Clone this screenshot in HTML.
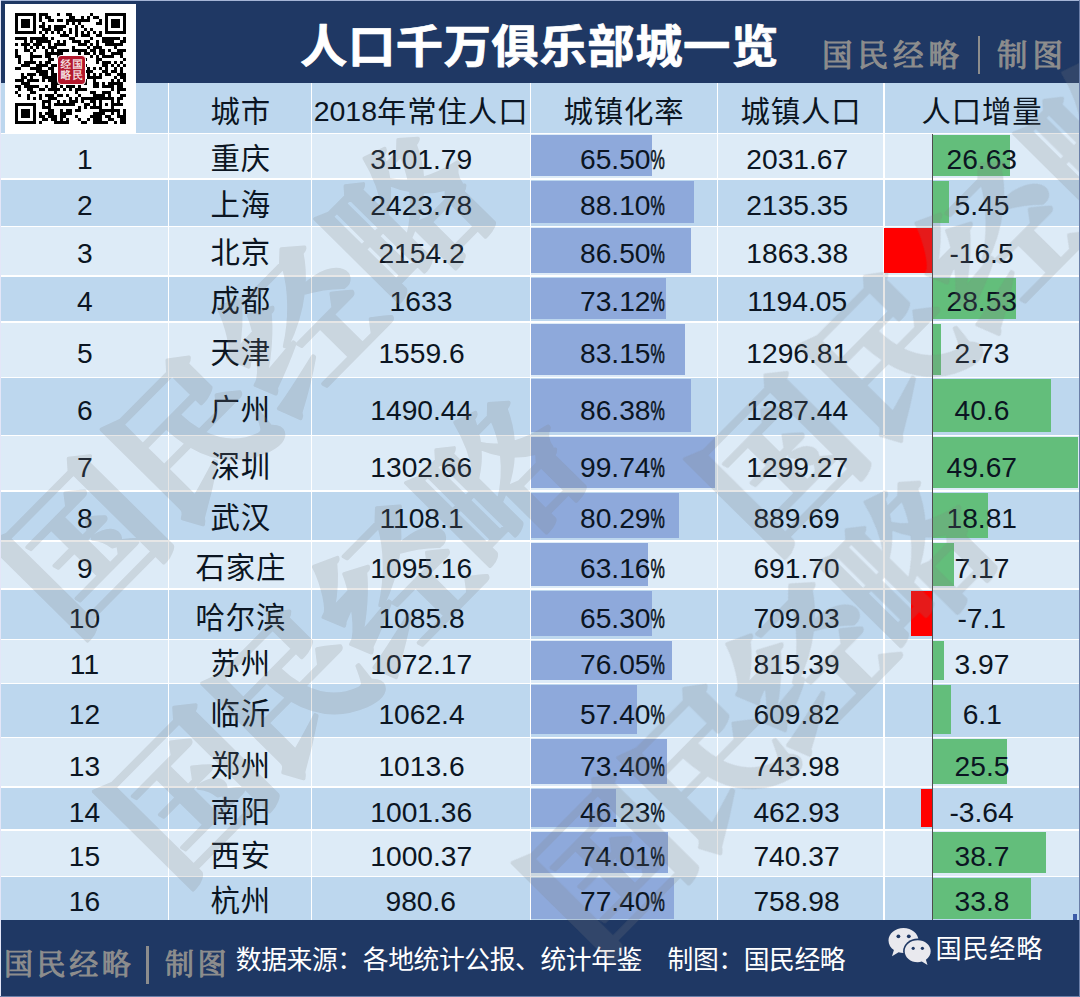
<!DOCTYPE html>
<html lang="zh-CN"><head><meta charset="utf-8"><title>人口千万俱乐部城一览</title>
<style>
html,body{margin:0;padding:0;background:#fff}
body{font-family:"Liberation Sans","Noto Sans CJK SC",sans-serif;width:1080px;height:997px;overflow:hidden}
#page{position:relative;width:1080px;height:997px;overflow:hidden;background:#ddebf7}
svg.t{display:block;overflow:visible;flex:none}
svg text{font-family:"Liberation Sans","Noto Sans CJK SC",sans-serif}
svg.kai text, svg.wm text{font-family:"Liberation Serif","Noto Serif CJK SC",serif}
.titlebar{position:absolute;left:0;top:0;width:1080px;height:83px;background:#1f3864}
.topline{position:absolute;left:0;top:0;width:1080px;height:1.5px;background:#9db2d6}
.leftline{position:absolute;left:0;top:0;width:1px;height:83px;background:#9db2d6}
.title{position:absolute;margin:0;padding:0;font-weight:bold;font-size:0;line-height:0}
.brand{position:absolute;display:flex;align-items:center}
.brand .vbar{display:block;flex:none}
.qrbox{position:absolute;z-index:5;left:5px;top:4px;width:131px;height:129.5px;background:#fff}
.qrbox svg.qr{position:absolute;left:10px;top:9px}
.qrlogo{position:absolute;left:51.5px;top:50.5px;width:27px;height:28px;border:1px solid #fff;border-radius:4px;background:#b4182d}
.table{position:absolute;left:0;top:0;width:1080px;height:921px}
.row{position:absolute;left:0;width:1080px}
.row.head{background:#bdd7ee}
.row.odd{background:#ddebf7}
.row.even{background:#bdd7ee}
.cell{position:absolute;top:0;height:100%;display:flex;align-items:flex-start;justify-content:center}
.cell .tx{position:relative;display:block;z-index:2}
.bar{position:absolute;display:block;background:#8ea9db;z-index:1}
.bar.g{background:#63be7b}
.bar.r{background:#ff0000}
.vl{position:absolute;top:83px;width:1.6px;height:838px;background:#fff;display:block}
.hl{position:absolute;left:0;width:1080px;height:1.7px;background:#fff;display:block}
.axis{position:absolute;top:134px;width:1px;height:786px;background:#4d4d4d;display:block;z-index:3}
.footer{position:absolute;left:0;top:920px;width:1080px;height:77px;background:#1f3864}
.src{position:absolute}
.wx{position:absolute;width:170px;height:42px}
.wx .wxi{position:absolute;left:0;top:0;display:block}
.wx .wxt{position:absolute;display:block}
.corner{position:absolute;left:1072.8px;top:913.8px;width:4px;height:6px;background:#3b5aa8;display:block}
.edge{position:absolute;display:block;z-index:9}
svg.wm{position:absolute;left:0;top:0;display:block;z-index:8;pointer-events:none}
.qrlogo svg.lg{position:absolute;left:0;top:0;display:block;opacity:.92}

</style></head>
<body>
<div id="page">
<div class="titlebar"></div>
<h1 class="title" style="left:300.4px;top:22.5px;width:478.3px;height:45.5px"><svg class="t" width="459.95" height="45.50" viewBox="0 -880 10108.8 1000" fill="#fff" style="transform:scaleX(1.040);transform-origin:0 0" stroke="#fff" stroke-width="16" stroke-linejoin="round"><text x="0" y="0" font-size="1000" font-weight="bold" letter-spacing="12.1">人口千万俱乐部城一览</text></svg></h1>
<div class="brand" style="left:822.0px;top:35.5px"><svg class="t kai" width="137.00" height="30.50" viewBox="0 -880 4491.8 1000" fill="#8d8d8d" style="position:relative;top:0.0px" stroke="#8d8d8d" stroke-width="36" stroke-linejoin="round"><text x="0" y="0" font-size="1000" letter-spacing="163.9">国民经略</text></svg><i class="vbar" style="background:#8d8d8d;width:2.5px;height:38.1px;margin:0 16.5px 0 18.5px"></i><svg class="t kai" width="66.00" height="30.50" viewBox="0 -880 2163.9 1000" fill="#8d8d8d" style="position:relative;top:0.0px" stroke="#8d8d8d" stroke-width="36" stroke-linejoin="round"><text x="0" y="0" font-size="1000" letter-spacing="163.9">制图</text></svg></div>
<div class="qrbox"><svg class="qr" width="111" height="111" viewBox="0 0 37 37" shape-rendering="crispEdges"><path fill="#000" d="M0 0h7v1h-7zM8 0h3v1h-3zM14 0h1v1h-1zM17 0h2v1h-2zM25 0h1v1h-1zM30 0h7v1h-7zM0 1h1v1h-1zM6 1h1v1h-1zM8 1h1v1h-1zM10 1h2v1h-2zM18 1h2v1h-2zM22 1h1v1h-1zM24 1h1v1h-1zM26 1h2v1h-2zM30 1h1v1h-1zM36 1h1v1h-1zM0 2h1v1h-1zM2 2h3v1h-3zM6 2h1v1h-1zM8 2h1v1h-1zM11 2h2v1h-2zM14 2h2v1h-2zM17 2h8v1h-8zM28 2h1v1h-1zM30 2h1v1h-1zM32 2h3v1h-3zM36 2h1v1h-1zM0 3h1v1h-1zM2 3h3v1h-3zM6 3h1v1h-1zM9 3h1v1h-1zM17 3h1v1h-1zM19 3h1v1h-1zM21 3h1v1h-1zM27 3h2v1h-2zM30 3h1v1h-1zM32 3h3v1h-3zM36 3h1v1h-1zM0 4h1v1h-1zM2 4h3v1h-3zM6 4h1v1h-1zM8 4h2v1h-2zM11 4h1v1h-1zM13 4h4v1h-4zM20 4h1v1h-1zM22 4h1v1h-1zM30 4h1v1h-1zM32 4h3v1h-3zM36 4h1v1h-1zM0 5h1v1h-1zM6 5h1v1h-1zM9 5h3v1h-3zM13 5h3v1h-3zM18 5h1v1h-1zM20 5h1v1h-1zM23 5h1v1h-1zM25 5h1v1h-1zM30 5h1v1h-1zM36 5h1v1h-1zM0 6h7v1h-7zM8 6h1v1h-1zM10 6h1v1h-1zM12 6h1v1h-1zM14 6h1v1h-1zM16 6h1v1h-1zM18 6h1v1h-1zM20 6h1v1h-1zM22 6h1v1h-1zM24 6h1v1h-1zM26 6h1v1h-1zM28 6h1v1h-1zM30 6h7v1h-7zM9 7h1v1h-1zM15 7h3v1h-3zM20 7h1v1h-1zM22 7h3v1h-3zM27 7h2v1h-2zM0 8h4v1h-4zM5 8h6v1h-6zM12 8h1v1h-1zM18 8h2v1h-2zM25 8h1v1h-1zM29 8h6v1h-6zM36 8h1v1h-1zM3 9h1v1h-1zM5 9h1v1h-1zM7 9h5v1h-5zM14 9h1v1h-1zM16 9h1v1h-1zM19 9h3v1h-3zM23 9h2v1h-2zM27 9h1v1h-1zM29 9h4v1h-4zM35 9h2v1h-2zM0 10h1v1h-1zM2 10h3v1h-3zM6 10h3v1h-3zM11 10h1v1h-1zM13 10h4v1h-4zM21 10h3v1h-3zM25 10h1v1h-1zM27 10h1v1h-1zM30 10h6v1h-6zM3 11h1v1h-1zM5 11h1v1h-1zM7 11h1v1h-1zM9 11h1v1h-1zM11 11h3v1h-3zM19 11h1v1h-1zM24 11h1v1h-1zM26 11h3v1h-3zM33 11h1v1h-1zM0 12h1v1h-1zM3 12h2v1h-2zM6 12h1v1h-1zM10 12h1v1h-1zM12 12h1v1h-1zM14 12h4v1h-4zM19 12h5v1h-5zM25 12h2v1h-2zM28 12h2v1h-2zM31 12h1v1h-1zM34 12h3v1h-3zM0 13h1v1h-1zM5 13h1v1h-1zM10 13h6v1h-6zM21 13h1v1h-1zM23 13h2v1h-2zM26 13h1v1h-1zM28 13h2v1h-2zM32 13h4v1h-4zM0 14h2v1h-2zM5 14h4v1h-4zM10 14h2v1h-2zM14 14h2v1h-2zM18 14h1v1h-1zM20 14h1v1h-1zM25 14h1v1h-1zM27 14h1v1h-1zM29 14h4v1h-4zM35 14h1v1h-1zM1 15h1v1h-1zM5 15h1v1h-1zM11 15h2v1h-2zM14 15h1v1h-1zM17 15h1v1h-1zM21 15h1v1h-1zM23 15h1v1h-1zM27 15h2v1h-2zM36 15h1v1h-1zM1 16h1v1h-1zM3 16h4v1h-4zM8 16h1v1h-1zM10 16h2v1h-2zM14 16h1v1h-1zM16 16h1v1h-1zM18 16h5v1h-5zM27 16h1v1h-1zM29 16h3v1h-3zM33 16h1v1h-1zM35 16h1v1h-1zM2 17h3v1h-3zM7 17h4v1h-4zM12 17h5v1h-5zM19 17h2v1h-2zM23 17h1v1h-1zM29 17h2v1h-2zM32 17h1v1h-1zM34 17h1v1h-1zM36 17h1v1h-1zM0 18h2v1h-2zM5 18h4v1h-4zM11 18h2v1h-2zM16 18h4v1h-4zM22 18h1v1h-1zM24 18h1v1h-1zM26 18h1v1h-1zM28 18h1v1h-1zM30 18h1v1h-1zM33 18h1v1h-1zM35 18h1v1h-1zM7 19h4v1h-4zM12 19h1v1h-1zM14 19h2v1h-2zM20 19h2v1h-2zM23 19h3v1h-3zM29 19h2v1h-2zM32 19h2v1h-2zM35 19h1v1h-1zM2 20h1v1h-1zM4 20h3v1h-3zM8 20h3v1h-3zM12 20h2v1h-2zM18 20h1v1h-1zM22 20h1v1h-1zM24 20h1v1h-1zM26 20h1v1h-1zM28 20h1v1h-1zM30 20h2v1h-2zM34 20h3v1h-3zM2 21h2v1h-2zM5 21h1v1h-1zM9 21h5v1h-5zM15 21h1v1h-1zM21 21h2v1h-2zM24 21h5v1h-5zM33 21h1v1h-1zM35 21h2v1h-2zM0 22h3v1h-3zM4 22h4v1h-4zM9 22h1v1h-1zM11 22h5v1h-5zM17 22h2v1h-2zM20 22h2v1h-2zM23 22h1v1h-1zM26 22h1v1h-1zM32 22h1v1h-1zM34 22h1v1h-1zM36 22h1v1h-1zM2 23h3v1h-3zM12 23h3v1h-3zM18 23h1v1h-1zM21 23h1v1h-1zM23 23h1v1h-1zM26 23h2v1h-2zM29 23h1v1h-1zM31 23h5v1h-5zM0 24h2v1h-2zM3 24h5v1h-5zM10 24h1v1h-1zM12 24h2v1h-2zM15 24h1v1h-1zM17 24h3v1h-3zM21 24h1v1h-1zM26 24h2v1h-2zM29 24h4v1h-4zM34 24h2v1h-2zM1 25h1v1h-1zM4 25h2v1h-2zM8 25h2v1h-2zM11 25h4v1h-4zM16 25h1v1h-1zM18 25h1v1h-1zM20 25h4v1h-4zM32 25h1v1h-1zM34 25h3v1h-3zM0 26h1v1h-1zM5 26h2v1h-2zM13 26h1v1h-1zM20 26h1v1h-1zM25 26h2v1h-2zM29 26h3v1h-3zM34 26h1v1h-1zM1 27h1v1h-1zM4 27h1v1h-1zM8 27h1v1h-1zM10 27h3v1h-3zM14 27h2v1h-2zM17 27h1v1h-1zM21 27h1v1h-1zM26 27h4v1h-4zM31 27h1v1h-1zM35 27h2v1h-2zM4 28h1v1h-1zM6 28h1v1h-1zM8 28h1v1h-1zM11 28h3v1h-3zM18 28h1v1h-1zM20 28h1v1h-1zM22 28h11v1h-11zM34 28h2v1h-2zM9 29h3v1h-3zM14 29h1v1h-1zM16 29h1v1h-1zM18 29h3v1h-3zM22 29h1v1h-1zM25 29h2v1h-2zM28 29h1v1h-1zM32 29h1v1h-1zM34 29h1v1h-1zM0 30h7v1h-7zM9 30h1v1h-1zM11 30h1v1h-1zM13 30h7v1h-7zM23 30h2v1h-2zM26 30h1v1h-1zM28 30h1v1h-1zM30 30h1v1h-1zM32 30h4v1h-4zM0 31h1v1h-1zM6 31h1v1h-1zM9 31h3v1h-3zM21 31h1v1h-1zM23 31h1v1h-1zM25 31h4v1h-4zM32 31h1v1h-1zM0 32h1v1h-1zM2 32h3v1h-3zM6 32h1v1h-1zM11 32h2v1h-2zM15 32h1v1h-1zM17 32h2v1h-2zM20 32h2v1h-2zM28 32h7v1h-7zM36 32h1v1h-1zM0 33h1v1h-1zM2 33h3v1h-3zM6 33h1v1h-1zM8 33h1v1h-1zM10 33h3v1h-3zM15 33h4v1h-4zM26 33h4v1h-4zM32 33h1v1h-1zM34 33h1v1h-1zM36 33h1v1h-1zM0 34h1v1h-1zM2 34h3v1h-3zM6 34h1v1h-1zM8 34h2v1h-2zM11 34h3v1h-3zM15 34h2v1h-2zM20 34h1v1h-1zM25 34h4v1h-4zM30 34h2v1h-2zM34 34h3v1h-3zM0 35h1v1h-1zM6 35h1v1h-1zM9 35h2v1h-2zM12 35h2v1h-2zM15 35h1v1h-1zM17 35h1v1h-1zM21 35h1v1h-1zM24 35h1v1h-1zM26 35h3v1h-3zM31 35h2v1h-2zM35 35h2v1h-2zM0 36h7v1h-7zM8 36h1v1h-1zM13 36h5v1h-5zM22 36h2v1h-2zM26 36h5v1h-5zM33 36h1v1h-1zM35 36h2v1h-2z"/></svg><div class="qrlogo"><svg class="lg kai" width="27" height="28" viewBox="0 0 27 28" fill="#fff" stroke="#fff" stroke-width="0.3"><text x="14.2" y="11.5" font-size="10.5">国</text><text x="14.2" y="23.3" font-size="10.5">民</text><text x="2.4" y="11.5" font-size="10.5">经</text><text x="2.4" y="23.3" font-size="10.5">略</text></svg></div></div>
<div class="table">
<div class="row head" style="top:83.0px;height:50.5px">
<div class="cell" style="left:0.0px;width:168.5px"></div>
<div class="cell" style="left:168.5px;width:143.0px"><span class="tx" style="left:0.0px;top:11.53px"><svg class="t" width="60.60" height="29.40" viewBox="0 -25.87 60.60 29.40" fill="#0b1522"><text x="0.45" y="1.2" font-size="29.4" letter-spacing="0.9">城市</text></svg></span></div>
<div class="cell" style="left:311.5px;width:219.0px"><span class="tx" style="left:0.0px;top:11.53px"><svg class="t" width="214.09" height="29.40" viewBox="0 -25.87 214.09 29.40" fill="#0b1522"><text x="31.3" y="0.1" font-size="28.5" text-anchor="middle">2018</text><text x="63.04" y="1.2" font-size="29.4" letter-spacing="0.9">年常住人口</text></svg></span></div>
<div class="cell" style="left:530.5px;width:187.0px"><span class="tx" style="left:0.0px;top:11.53px"><svg class="t" width="121.20" height="29.40" viewBox="0 -25.87 121.20 29.40" fill="#0b1522"><text x="0.45" y="1.2" font-size="29.4" letter-spacing="0.9">城镇化率</text></svg></span></div>
<div class="cell" style="left:717.5px;width:166.3px"><span class="tx" style="left:0.0px;top:11.53px"><svg class="t" width="121.20" height="29.40" viewBox="0 -25.87 121.20 29.40" fill="#0b1522"><text x="0.45" y="1.2" font-size="29.4" letter-spacing="0.9">城镇人口</text></svg></span></div>
<div class="cell" style="left:883.8px;width:196.2px"><span class="tx" style="left:0.0px;top:11.53px"><svg class="t" width="121.20" height="29.40" viewBox="0 -25.87 121.20 29.40" fill="#0b1522"><text x="0.45" y="1.2" font-size="29.4" letter-spacing="0.9">人口增量</text></svg></span></div>
</div>
<div class="row odd" style="top:133.5px;height:45.8px">
<div class="cell" style="left:0.0px;width:168.5px"><span class="tx" style="left:0.0px;top:9.33px"><svg class="t" width="15.48" height="29.40" viewBox="0 -25.87 15.48 29.40" fill="#0b1522"><text x="7.74" y="0" font-size="28.2" text-anchor="middle">1</text></svg></span></div>
<div class="cell" style="left:168.5px;width:143.0px"><span class="tx" style="left:0.0px;top:9.33px"><svg class="t" width="60.60" height="29.40" viewBox="0 -25.87 60.60 29.40" fill="#0b1522"><text x="0.45" y="0" font-size="29.4" letter-spacing="0.9">重庆</text></svg></span></div>
<div class="cell" style="left:311.5px;width:219.0px"><span class="tx" style="left:0.0px;top:9.33px"><svg class="t" width="100.48" height="29.40" viewBox="0 -25.87 100.48 29.40" fill="#0b1522"><text x="50.24" y="0" font-size="28.2" text-anchor="middle">3101.79</text></svg></span></div>
<div class="cell" style="left:530.5px;width:187.0px"><i class="bar" style="left:0.5px;top:1.9px;width:121.0px;height:40.9px"></i><span class="tx" style="left:-1.5px;top:9.33px"><svg class="t" width="85.00" height="29.40" viewBox="0 -25.87 85.00 29.40" fill="#0b1522"><text x="0" y="0" font-size="28.2">65.50</text><text transform="translate(70.6 0) scale(0.57 1)" font-size="28.2" stroke="#0b1522" stroke-width="0.7">%</text></svg></span></div>
<div class="cell" style="left:717.5px;width:166.3px"><span class="tx" style="left:-3.7px;top:9.33px"><svg class="t" width="100.48" height="29.40" viewBox="0 -25.87 100.48 29.40" fill="#0b1522"><text x="50.24" y="0" font-size="28.2" text-anchor="middle">2031.67</text></svg></span></div>
<div class="cell" style="left:883.8px;width:196.2px"><i class="bar g" style="left:49.1px;top:1.9px;width:77.6px;height:40.9px"></i><span class="tx" style="left:0.0px;top:9.33px"><svg class="t" width="69.51" height="29.40" viewBox="0 -25.87 69.51 29.40" fill="#0b1522"><text x="34.76" y="0" font-size="28.2" text-anchor="middle">26.63</text></svg></span></div>
</div>
<div class="row even" style="top:179.3px;height:47.2px">
<div class="cell" style="left:0.0px;width:168.5px"><span class="tx" style="left:0.0px;top:9.33px"><svg class="t" width="15.48" height="29.40" viewBox="0 -25.87 15.48 29.40" fill="#0b1522"><text x="7.74" y="0" font-size="28.2" text-anchor="middle">2</text></svg></span></div>
<div class="cell" style="left:168.5px;width:143.0px"><span class="tx" style="left:0.0px;top:9.33px"><svg class="t" width="60.60" height="29.40" viewBox="0 -25.87 60.60 29.40" fill="#0b1522"><text x="0.45" y="0" font-size="29.4" letter-spacing="0.9">上海</text></svg></span></div>
<div class="cell" style="left:311.5px;width:219.0px"><span class="tx" style="left:0.0px;top:9.33px"><svg class="t" width="100.48" height="29.40" viewBox="0 -25.87 100.48 29.40" fill="#0b1522"><text x="50.24" y="0" font-size="28.2" text-anchor="middle">2423.78</text></svg></span></div>
<div class="cell" style="left:530.5px;width:187.0px"><i class="bar" style="left:0.5px;top:1.9px;width:162.8px;height:42.3px"></i><span class="tx" style="left:-1.5px;top:9.33px"><svg class="t" width="85.00" height="29.40" viewBox="0 -25.87 85.00 29.40" fill="#0b1522"><text x="0" y="0" font-size="28.2">88.10</text><text transform="translate(70.6 0) scale(0.57 1)" font-size="28.2" stroke="#0b1522" stroke-width="0.7">%</text></svg></span></div>
<div class="cell" style="left:717.5px;width:166.3px"><span class="tx" style="left:-3.7px;top:9.33px"><svg class="t" width="100.48" height="29.40" viewBox="0 -25.87 100.48 29.40" fill="#0b1522"><text x="50.24" y="0" font-size="28.2" text-anchor="middle">2135.35</text></svg></span></div>
<div class="cell" style="left:883.8px;width:196.2px"><i class="bar g" style="left:49.1px;top:1.9px;width:15.9px;height:42.3px"></i><span class="tx" style="left:0.0px;top:9.33px"><svg class="t" width="54.03" height="29.40" viewBox="0 -25.87 54.03 29.40" fill="#0b1522"><text x="27.02" y="0" font-size="28.2" text-anchor="middle">5.45</text></svg></span></div>
</div>
<div class="row odd" style="top:226.5px;height:49.2px">
<div class="cell" style="left:0.0px;width:168.5px"><span class="tx" style="left:0.0px;top:10.83px"><svg class="t" width="15.48" height="29.40" viewBox="0 -25.87 15.48 29.40" fill="#0b1522"><text x="7.74" y="0" font-size="28.2" text-anchor="middle">3</text></svg></span></div>
<div class="cell" style="left:168.5px;width:143.0px"><span class="tx" style="left:0.0px;top:10.83px"><svg class="t" width="60.60" height="29.40" viewBox="0 -25.87 60.60 29.40" fill="#0b1522"><text x="0.45" y="0" font-size="29.4" letter-spacing="0.9">北京</text></svg></span></div>
<div class="cell" style="left:311.5px;width:219.0px"><span class="tx" style="left:0.0px;top:10.83px"><svg class="t" width="84.99" height="29.40" viewBox="0 -25.87 84.99 29.40" fill="#0b1522"><text x="42.5" y="0" font-size="28.2" text-anchor="middle">2154.2</text></svg></span></div>
<div class="cell" style="left:530.5px;width:187.0px"><i class="bar" style="left:0.5px;top:1.9px;width:159.9px;height:44.3px"></i><span class="tx" style="left:-1.5px;top:10.83px"><svg class="t" width="85.00" height="29.40" viewBox="0 -25.87 85.00 29.40" fill="#0b1522"><text x="0" y="0" font-size="28.2">86.50</text><text transform="translate(70.6 0) scale(0.57 1)" font-size="28.2" stroke="#0b1522" stroke-width="0.7">%</text></svg></span></div>
<div class="cell" style="left:717.5px;width:166.3px"><span class="tx" style="left:-3.7px;top:10.83px"><svg class="t" width="100.48" height="29.40" viewBox="0 -25.87 100.48 29.40" fill="#0b1522"><text x="50.24" y="0" font-size="28.2" text-anchor="middle">1863.38</text></svg></span></div>
<div class="cell" style="left:883.8px;width:196.2px"><i class="bar r" style="left:0.0px;top:1.9px;width:48.1px;height:44.3px"></i><span class="tx" style="left:0.0px;top:10.83px"><svg class="t" width="67.04" height="29.40" viewBox="0 -25.87 67.04 29.40" fill="#0b1522"><text x="33.52" y="0" font-size="28.2" text-anchor="middle">-16.5</text></svg></span></div>
</div>
<div class="row even" style="top:275.7px;height:46.4px">
<div class="cell" style="left:0.0px;width:168.5px"><span class="tx" style="left:0.0px;top:9.43px"><svg class="t" width="15.48" height="29.40" viewBox="0 -25.87 15.48 29.40" fill="#0b1522"><text x="7.74" y="0" font-size="28.2" text-anchor="middle">4</text></svg></span></div>
<div class="cell" style="left:168.5px;width:143.0px"><span class="tx" style="left:0.0px;top:9.43px"><svg class="t" width="60.60" height="29.40" viewBox="0 -25.87 60.60 29.40" fill="#0b1522"><text x="0.45" y="0" font-size="29.4" letter-spacing="0.9">成都</text></svg></span></div>
<div class="cell" style="left:311.5px;width:219.0px"><span class="tx" style="left:0.0px;top:9.43px"><svg class="t" width="61.93" height="29.40" viewBox="0 -25.87 61.93 29.40" fill="#0b1522"><text x="30.97" y="0" font-size="28.2" text-anchor="middle">1633</text></svg></span></div>
<div class="cell" style="left:530.5px;width:187.0px"><i class="bar" style="left:0.5px;top:1.9px;width:135.1px;height:41.5px"></i><span class="tx" style="left:-1.5px;top:9.43px"><svg class="t" width="85.00" height="29.40" viewBox="0 -25.87 85.00 29.40" fill="#0b1522"><text x="0" y="0" font-size="28.2">73.12</text><text transform="translate(70.6 0) scale(0.57 1)" font-size="28.2" stroke="#0b1522" stroke-width="0.7">%</text></svg></span></div>
<div class="cell" style="left:717.5px;width:166.3px"><span class="tx" style="left:-3.7px;top:9.43px"><svg class="t" width="100.48" height="29.40" viewBox="0 -25.87 100.48 29.40" fill="#0b1522"><text x="50.24" y="0" font-size="28.2" text-anchor="middle">1194.05</text></svg></span></div>
<div class="cell" style="left:883.8px;width:196.2px"><i class="bar g" style="left:49.1px;top:1.9px;width:83.2px;height:41.5px"></i><span class="tx" style="left:0.0px;top:9.43px"><svg class="t" width="69.51" height="29.40" viewBox="0 -25.87 69.51 29.40" fill="#0b1522"><text x="34.76" y="0" font-size="28.2" text-anchor="middle">28.53</text></svg></span></div>
</div>
<div class="row odd" style="top:322.1px;height:55.5px">
<div class="cell" style="left:0.0px;width:168.5px"><span class="tx" style="left:0.0px;top:14.43px"><svg class="t" width="15.48" height="29.40" viewBox="0 -25.87 15.48 29.40" fill="#0b1522"><text x="7.74" y="0" font-size="28.2" text-anchor="middle">5</text></svg></span></div>
<div class="cell" style="left:168.5px;width:143.0px"><span class="tx" style="left:0.0px;top:14.43px"><svg class="t" width="60.60" height="29.40" viewBox="0 -25.87 60.60 29.40" fill="#0b1522"><text x="0.45" y="0" font-size="29.4" letter-spacing="0.9">天津</text></svg></span></div>
<div class="cell" style="left:311.5px;width:219.0px"><span class="tx" style="left:0.0px;top:14.43px"><svg class="t" width="84.99" height="29.40" viewBox="0 -25.87 84.99 29.40" fill="#0b1522"><text x="42.5" y="0" font-size="28.2" text-anchor="middle">1559.6</text></svg></span></div>
<div class="cell" style="left:530.5px;width:187.0px"><i class="bar" style="left:0.5px;top:1.9px;width:153.7px;height:50.6px"></i><span class="tx" style="left:-1.5px;top:14.43px"><svg class="t" width="85.00" height="29.40" viewBox="0 -25.87 85.00 29.40" fill="#0b1522"><text x="0" y="0" font-size="28.2">83.15</text><text transform="translate(70.6 0) scale(0.57 1)" font-size="28.2" stroke="#0b1522" stroke-width="0.7">%</text></svg></span></div>
<div class="cell" style="left:717.5px;width:166.3px"><span class="tx" style="left:-3.7px;top:14.43px"><svg class="t" width="100.48" height="29.40" viewBox="0 -25.87 100.48 29.40" fill="#0b1522"><text x="50.24" y="0" font-size="28.2" text-anchor="middle">1296.81</text></svg></span></div>
<div class="cell" style="left:883.8px;width:196.2px"><i class="bar g" style="left:49.1px;top:1.9px;width:8.0px;height:50.6px"></i><span class="tx" style="left:0.0px;top:14.43px"><svg class="t" width="54.03" height="29.40" viewBox="0 -25.87 54.03 29.40" fill="#0b1522"><text x="27.02" y="0" font-size="28.2" text-anchor="middle">2.73</text></svg></span></div>
</div>
<div class="row even" style="top:377.6px;height:57.8px">
<div class="cell" style="left:0.0px;width:168.5px"><span class="tx" style="left:0.0px;top:15.93px"><svg class="t" width="15.48" height="29.40" viewBox="0 -25.87 15.48 29.40" fill="#0b1522"><text x="7.74" y="0" font-size="28.2" text-anchor="middle">6</text></svg></span></div>
<div class="cell" style="left:168.5px;width:143.0px"><span class="tx" style="left:0.0px;top:15.93px"><svg class="t" width="60.60" height="29.40" viewBox="0 -25.87 60.60 29.40" fill="#0b1522"><text x="0.45" y="0" font-size="29.4" letter-spacing="0.9">广州</text></svg></span></div>
<div class="cell" style="left:311.5px;width:219.0px"><span class="tx" style="left:0.0px;top:15.93px"><svg class="t" width="100.48" height="29.40" viewBox="0 -25.87 100.48 29.40" fill="#0b1522"><text x="50.24" y="0" font-size="28.2" text-anchor="middle">1490.44</text></svg></span></div>
<div class="cell" style="left:530.5px;width:187.0px"><i class="bar" style="left:0.5px;top:1.9px;width:159.6px;height:52.9px"></i><span class="tx" style="left:-1.5px;top:15.93px"><svg class="t" width="85.00" height="29.40" viewBox="0 -25.87 85.00 29.40" fill="#0b1522"><text x="0" y="0" font-size="28.2">86.38</text><text transform="translate(70.6 0) scale(0.57 1)" font-size="28.2" stroke="#0b1522" stroke-width="0.7">%</text></svg></span></div>
<div class="cell" style="left:717.5px;width:166.3px"><span class="tx" style="left:-3.7px;top:15.93px"><svg class="t" width="100.48" height="29.40" viewBox="0 -25.87 100.48 29.40" fill="#0b1522"><text x="50.24" y="0" font-size="28.2" text-anchor="middle">1287.44</text></svg></span></div>
<div class="cell" style="left:883.8px;width:196.2px"><i class="bar g" style="left:49.1px;top:1.9px;width:118.3px;height:52.9px"></i><span class="tx" style="left:0.0px;top:15.93px"><svg class="t" width="54.03" height="29.40" viewBox="0 -25.87 54.03 29.40" fill="#0b1522"><text x="27.02" y="0" font-size="28.2" text-anchor="middle">40.6</text></svg></span></div>
</div>
<div class="row odd" style="top:435.4px;height:55.9px">
<div class="cell" style="left:0.0px;width:168.5px"><span class="tx" style="left:0.0px;top:15.23px"><svg class="t" width="15.48" height="29.40" viewBox="0 -25.87 15.48 29.40" fill="#0b1522"><text x="7.74" y="0" font-size="28.2" text-anchor="middle">7</text></svg></span></div>
<div class="cell" style="left:168.5px;width:143.0px"><span class="tx" style="left:0.0px;top:15.23px"><svg class="t" width="60.60" height="29.40" viewBox="0 -25.87 60.60 29.40" fill="#0b1522"><text x="0.45" y="0" font-size="29.4" letter-spacing="0.9">深圳</text></svg></span></div>
<div class="cell" style="left:311.5px;width:219.0px"><span class="tx" style="left:0.0px;top:15.23px"><svg class="t" width="100.48" height="29.40" viewBox="0 -25.87 100.48 29.40" fill="#0b1522"><text x="50.24" y="0" font-size="28.2" text-anchor="middle">1302.66</text></svg></span></div>
<div class="cell" style="left:530.5px;width:187.0px"><i class="bar" style="left:0.5px;top:1.9px;width:184.3px;height:51.0px"></i><span class="tx" style="left:-1.5px;top:15.23px"><svg class="t" width="85.00" height="29.40" viewBox="0 -25.87 85.00 29.40" fill="#0b1522"><text x="0" y="0" font-size="28.2">99.74</text><text transform="translate(70.6 0) scale(0.57 1)" font-size="28.2" stroke="#0b1522" stroke-width="0.7">%</text></svg></span></div>
<div class="cell" style="left:717.5px;width:166.3px"><span class="tx" style="left:-3.7px;top:15.23px"><svg class="t" width="100.48" height="29.40" viewBox="0 -25.87 100.48 29.40" fill="#0b1522"><text x="50.24" y="0" font-size="28.2" text-anchor="middle">1299.27</text></svg></span></div>
<div class="cell" style="left:883.8px;width:196.2px"><i class="bar g" style="left:49.1px;top:1.9px;width:144.8px;height:51.0px"></i><span class="tx" style="left:0.0px;top:15.23px"><svg class="t" width="69.51" height="29.40" viewBox="0 -25.87 69.51 29.40" fill="#0b1522"><text x="34.76" y="0" font-size="28.2" text-anchor="middle">49.67</text></svg></span></div>
</div>
<div class="row even" style="top:491.3px;height:49.4px">
<div class="cell" style="left:0.0px;width:168.5px"><span class="tx" style="left:0.0px;top:11.03px"><svg class="t" width="15.48" height="29.40" viewBox="0 -25.87 15.48 29.40" fill="#0b1522"><text x="7.74" y="0" font-size="28.2" text-anchor="middle">8</text></svg></span></div>
<div class="cell" style="left:168.5px;width:143.0px"><span class="tx" style="left:0.0px;top:11.03px"><svg class="t" width="60.60" height="29.40" viewBox="0 -25.87 60.60 29.40" fill="#0b1522"><text x="0.45" y="0" font-size="29.4" letter-spacing="0.9">武汉</text></svg></span></div>
<div class="cell" style="left:311.5px;width:219.0px"><span class="tx" style="left:0.0px;top:11.03px"><svg class="t" width="84.99" height="29.40" viewBox="0 -25.87 84.99 29.40" fill="#0b1522"><text x="42.5" y="0" font-size="28.2" text-anchor="middle">1108.1</text></svg></span></div>
<div class="cell" style="left:530.5px;width:187.0px"><i class="bar" style="left:0.5px;top:1.9px;width:148.4px;height:44.5px"></i><span class="tx" style="left:-1.5px;top:11.03px"><svg class="t" width="85.00" height="29.40" viewBox="0 -25.87 85.00 29.40" fill="#0b1522"><text x="0" y="0" font-size="28.2">80.29</text><text transform="translate(70.6 0) scale(0.57 1)" font-size="28.2" stroke="#0b1522" stroke-width="0.7">%</text></svg></span></div>
<div class="cell" style="left:717.5px;width:166.3px"><span class="tx" style="left:-3.7px;top:11.03px"><svg class="t" width="84.99" height="29.40" viewBox="0 -25.87 84.99 29.40" fill="#0b1522"><text x="42.5" y="0" font-size="28.2" text-anchor="middle">889.69</text></svg></span></div>
<div class="cell" style="left:883.8px;width:196.2px"><i class="bar g" style="left:49.1px;top:1.9px;width:54.8px;height:44.5px"></i><span class="tx" style="left:0.0px;top:11.03px"><svg class="t" width="69.51" height="29.40" viewBox="0 -25.87 69.51 29.40" fill="#0b1522"><text x="34.76" y="0" font-size="28.2" text-anchor="middle">18.81</text></svg></span></div>
</div>
<div class="row odd" style="top:540.7px;height:48.1px">
<div class="cell" style="left:0.0px;width:168.5px"><span class="tx" style="left:0.0px;top:10.83px"><svg class="t" width="15.48" height="29.40" viewBox="0 -25.87 15.48 29.40" fill="#0b1522"><text x="7.74" y="0" font-size="28.2" text-anchor="middle">9</text></svg></span></div>
<div class="cell" style="left:168.5px;width:143.0px"><span class="tx" style="left:0.0px;top:10.83px"><svg class="t" width="90.90" height="29.40" viewBox="0 -25.87 90.90 29.40" fill="#0b1522"><text x="0.45" y="0" font-size="29.4" letter-spacing="0.9">石家庄</text></svg></span></div>
<div class="cell" style="left:311.5px;width:219.0px"><span class="tx" style="left:0.0px;top:10.83px"><svg class="t" width="100.48" height="29.40" viewBox="0 -25.87 100.48 29.40" fill="#0b1522"><text x="50.24" y="0" font-size="28.2" text-anchor="middle">1095.16</text></svg></span></div>
<div class="cell" style="left:530.5px;width:187.0px"><i class="bar" style="left:0.5px;top:1.9px;width:116.7px;height:43.2px"></i><span class="tx" style="left:-1.5px;top:10.83px"><svg class="t" width="85.00" height="29.40" viewBox="0 -25.87 85.00 29.40" fill="#0b1522"><text x="0" y="0" font-size="28.2">63.16</text><text transform="translate(70.6 0) scale(0.57 1)" font-size="28.2" stroke="#0b1522" stroke-width="0.7">%</text></svg></span></div>
<div class="cell" style="left:717.5px;width:166.3px"><span class="tx" style="left:-3.7px;top:10.83px"><svg class="t" width="84.99" height="29.40" viewBox="0 -25.87 84.99 29.40" fill="#0b1522"><text x="42.5" y="0" font-size="28.2" text-anchor="middle">691.70</text></svg></span></div>
<div class="cell" style="left:883.8px;width:196.2px"><i class="bar g" style="left:49.1px;top:1.9px;width:20.9px;height:43.2px"></i><span class="tx" style="left:0.0px;top:10.83px"><svg class="t" width="54.03" height="29.40" viewBox="0 -25.87 54.03 29.40" fill="#0b1522"><text x="27.02" y="0" font-size="28.2" text-anchor="middle">7.17</text></svg></span></div>
</div>
<div class="row even" style="top:588.8px;height:50.7px">
<div class="cell" style="left:0.0px;width:168.5px"><span class="tx" style="left:0.0px;top:12.73px"><svg class="t" width="30.96" height="29.40" viewBox="0 -25.87 30.96 29.40" fill="#0b1522"><text x="15.48" y="0" font-size="28.2" text-anchor="middle">10</text></svg></span></div>
<div class="cell" style="left:168.5px;width:143.0px"><span class="tx" style="left:0.0px;top:12.73px"><svg class="t" width="90.90" height="29.40" viewBox="0 -25.87 90.90 29.40" fill="#0b1522"><text x="0.45" y="0" font-size="29.4" letter-spacing="0.9">哈尔滨</text></svg></span></div>
<div class="cell" style="left:311.5px;width:219.0px"><span class="tx" style="left:0.0px;top:12.73px"><svg class="t" width="84.99" height="29.40" viewBox="0 -25.87 84.99 29.40" fill="#0b1522"><text x="42.5" y="0" font-size="28.2" text-anchor="middle">1085.8</text></svg></span></div>
<div class="cell" style="left:530.5px;width:187.0px"><i class="bar" style="left:0.5px;top:1.9px;width:120.7px;height:45.8px"></i><span class="tx" style="left:-1.5px;top:12.73px"><svg class="t" width="85.00" height="29.40" viewBox="0 -25.87 85.00 29.40" fill="#0b1522"><text x="0" y="0" font-size="28.2">65.30</text><text transform="translate(70.6 0) scale(0.57 1)" font-size="28.2" stroke="#0b1522" stroke-width="0.7">%</text></svg></span></div>
<div class="cell" style="left:717.5px;width:166.3px"><span class="tx" style="left:-3.7px;top:12.73px"><svg class="t" width="84.99" height="29.40" viewBox="0 -25.87 84.99 29.40" fill="#0b1522"><text x="42.5" y="0" font-size="28.2" text-anchor="middle">709.03</text></svg></span></div>
<div class="cell" style="left:883.8px;width:196.2px"><i class="bar r" style="left:27.4px;top:1.9px;width:20.7px;height:45.8px"></i><span class="tx" style="left:0.0px;top:12.73px"><svg class="t" width="51.56" height="29.40" viewBox="0 -25.87 51.56 29.40" fill="#0b1522"><text x="25.78" y="0" font-size="28.2" text-anchor="middle">-7.1</text></svg></span></div>
</div>
<div class="row odd" style="top:639.5px;height:43.9px">
<div class="cell" style="left:0.0px;width:168.5px"><span class="tx" style="left:0.0px;top:8.63px"><svg class="t" width="30.96" height="29.40" viewBox="0 -25.87 30.96 29.40" fill="#0b1522"><text x="15.48" y="0" font-size="28.2" text-anchor="middle">11</text></svg></span></div>
<div class="cell" style="left:168.5px;width:143.0px"><span class="tx" style="left:0.0px;top:8.63px"><svg class="t" width="60.60" height="29.40" viewBox="0 -25.87 60.60 29.40" fill="#0b1522"><text x="0.45" y="0" font-size="29.4" letter-spacing="0.9">苏州</text></svg></span></div>
<div class="cell" style="left:311.5px;width:219.0px"><span class="tx" style="left:0.0px;top:8.63px"><svg class="t" width="100.48" height="29.40" viewBox="0 -25.87 100.48 29.40" fill="#0b1522"><text x="50.24" y="0" font-size="28.2" text-anchor="middle">1072.17</text></svg></span></div>
<div class="cell" style="left:530.5px;width:187.0px"><i class="bar" style="left:0.5px;top:1.9px;width:140.5px;height:39.0px"></i><span class="tx" style="left:-1.5px;top:8.63px"><svg class="t" width="85.00" height="29.40" viewBox="0 -25.87 85.00 29.40" fill="#0b1522"><text x="0" y="0" font-size="28.2">76.05</text><text transform="translate(70.6 0) scale(0.57 1)" font-size="28.2" stroke="#0b1522" stroke-width="0.7">%</text></svg></span></div>
<div class="cell" style="left:717.5px;width:166.3px"><span class="tx" style="left:-3.7px;top:8.63px"><svg class="t" width="84.99" height="29.40" viewBox="0 -25.87 84.99 29.40" fill="#0b1522"><text x="42.5" y="0" font-size="28.2" text-anchor="middle">815.39</text></svg></span></div>
<div class="cell" style="left:883.8px;width:196.2px"><i class="bar g" style="left:49.1px;top:1.9px;width:11.6px;height:39.0px"></i><span class="tx" style="left:0.0px;top:8.63px"><svg class="t" width="54.03" height="29.40" viewBox="0 -25.87 54.03 29.40" fill="#0b1522"><text x="27.02" y="0" font-size="28.2" text-anchor="middle">3.97</text></svg></span></div>
</div>
<div class="row even" style="top:683.4px;height:54.1px">
<div class="cell" style="left:0.0px;width:168.5px"><span class="tx" style="left:0.0px;top:14.13px"><svg class="t" width="30.96" height="29.40" viewBox="0 -25.87 30.96 29.40" fill="#0b1522"><text x="15.48" y="0" font-size="28.2" text-anchor="middle">12</text></svg></span></div>
<div class="cell" style="left:168.5px;width:143.0px"><span class="tx" style="left:0.0px;top:14.13px"><svg class="t" width="60.60" height="29.40" viewBox="0 -25.87 60.60 29.40" fill="#0b1522"><text x="0.45" y="0" font-size="29.4" letter-spacing="0.9">临沂</text></svg></span></div>
<div class="cell" style="left:311.5px;width:219.0px"><span class="tx" style="left:0.0px;top:14.13px"><svg class="t" width="84.99" height="29.40" viewBox="0 -25.87 84.99 29.40" fill="#0b1522"><text x="42.5" y="0" font-size="28.2" text-anchor="middle">1062.4</text></svg></span></div>
<div class="cell" style="left:530.5px;width:187.0px"><i class="bar" style="left:0.5px;top:1.9px;width:106.1px;height:49.2px"></i><span class="tx" style="left:-1.5px;top:14.13px"><svg class="t" width="85.00" height="29.40" viewBox="0 -25.87 85.00 29.40" fill="#0b1522"><text x="0" y="0" font-size="28.2">57.40</text><text transform="translate(70.6 0) scale(0.57 1)" font-size="28.2" stroke="#0b1522" stroke-width="0.7">%</text></svg></span></div>
<div class="cell" style="left:717.5px;width:166.3px"><span class="tx" style="left:-3.7px;top:14.13px"><svg class="t" width="84.99" height="29.40" viewBox="0 -25.87 84.99 29.40" fill="#0b1522"><text x="42.5" y="0" font-size="28.2" text-anchor="middle">609.82</text></svg></span></div>
<div class="cell" style="left:883.8px;width:196.2px"><i class="bar g" style="left:49.1px;top:1.9px;width:17.8px;height:49.2px"></i><span class="tx" style="left:0.0px;top:14.13px"><svg class="t" width="38.55" height="29.40" viewBox="0 -25.87 38.55 29.40" fill="#0b1522"><text x="19.28" y="0" font-size="28.2" text-anchor="middle">6.1</text></svg></span></div>
</div>
<div class="row odd" style="top:737.5px;height:49.8px">
<div class="cell" style="left:0.0px;width:168.5px"><span class="tx" style="left:0.0px;top:12.13px"><svg class="t" width="30.96" height="29.40" viewBox="0 -25.87 30.96 29.40" fill="#0b1522"><text x="15.48" y="0" font-size="28.2" text-anchor="middle">13</text></svg></span></div>
<div class="cell" style="left:168.5px;width:143.0px"><span class="tx" style="left:0.0px;top:12.13px"><svg class="t" width="60.60" height="29.40" viewBox="0 -25.87 60.60 29.40" fill="#0b1522"><text x="0.45" y="0" font-size="29.4" letter-spacing="0.9">郑州</text></svg></span></div>
<div class="cell" style="left:311.5px;width:219.0px"><span class="tx" style="left:0.0px;top:12.13px"><svg class="t" width="84.99" height="29.40" viewBox="0 -25.87 84.99 29.40" fill="#0b1522"><text x="42.5" y="0" font-size="28.2" text-anchor="middle">1013.6</text></svg></span></div>
<div class="cell" style="left:530.5px;width:187.0px"><i class="bar" style="left:0.5px;top:1.9px;width:135.6px;height:44.9px"></i><span class="tx" style="left:-1.5px;top:12.13px"><svg class="t" width="85.00" height="29.40" viewBox="0 -25.87 85.00 29.40" fill="#0b1522"><text x="0" y="0" font-size="28.2">73.40</text><text transform="translate(70.6 0) scale(0.57 1)" font-size="28.2" stroke="#0b1522" stroke-width="0.7">%</text></svg></span></div>
<div class="cell" style="left:717.5px;width:166.3px"><span class="tx" style="left:-3.7px;top:12.13px"><svg class="t" width="84.99" height="29.40" viewBox="0 -25.87 84.99 29.40" fill="#0b1522"><text x="42.5" y="0" font-size="28.2" text-anchor="middle">743.98</text></svg></span></div>
<div class="cell" style="left:883.8px;width:196.2px"><i class="bar g" style="left:49.1px;top:1.9px;width:74.3px;height:44.9px"></i><span class="tx" style="left:0.0px;top:12.13px"><svg class="t" width="54.03" height="29.40" viewBox="0 -25.87 54.03 29.40" fill="#0b1522"><text x="27.02" y="0" font-size="28.2" text-anchor="middle">25.5</text></svg></span></div>
</div>
<div class="row even" style="top:787.3px;height:42.8px">
<div class="cell" style="left:0.0px;width:168.5px"><span class="tx" style="left:0.0px;top:8.23px"><svg class="t" width="30.96" height="29.40" viewBox="0 -25.87 30.96 29.40" fill="#0b1522"><text x="15.48" y="0" font-size="28.2" text-anchor="middle">14</text></svg></span></div>
<div class="cell" style="left:168.5px;width:143.0px"><span class="tx" style="left:0.0px;top:8.23px"><svg class="t" width="60.60" height="29.40" viewBox="0 -25.87 60.60 29.40" fill="#0b1522"><text x="0.45" y="0" font-size="29.4" letter-spacing="0.9">南阳</text></svg></span></div>
<div class="cell" style="left:311.5px;width:219.0px"><span class="tx" style="left:0.0px;top:8.23px"><svg class="t" width="100.48" height="29.40" viewBox="0 -25.87 100.48 29.40" fill="#0b1522"><text x="50.24" y="0" font-size="28.2" text-anchor="middle">1001.36</text></svg></span></div>
<div class="cell" style="left:530.5px;width:187.0px"><i class="bar" style="left:0.5px;top:1.9px;width:85.4px;height:37.9px"></i><span class="tx" style="left:-1.5px;top:8.23px"><svg class="t" width="85.00" height="29.40" viewBox="0 -25.87 85.00 29.40" fill="#0b1522"><text x="0" y="0" font-size="28.2">46.23</text><text transform="translate(70.6 0) scale(0.57 1)" font-size="28.2" stroke="#0b1522" stroke-width="0.7">%</text></svg></span></div>
<div class="cell" style="left:717.5px;width:166.3px"><span class="tx" style="left:-3.7px;top:8.23px"><svg class="t" width="84.99" height="29.40" viewBox="0 -25.87 84.99 29.40" fill="#0b1522"><text x="42.5" y="0" font-size="28.2" text-anchor="middle">462.93</text></svg></span></div>
<div class="cell" style="left:883.8px;width:196.2px"><i class="bar r" style="left:37.5px;top:1.9px;width:10.6px;height:37.9px"></i><span class="tx" style="left:0.0px;top:8.23px"><svg class="t" width="67.04" height="29.40" viewBox="0 -25.87 67.04 29.40" fill="#0b1522"><text x="33.52" y="0" font-size="28.2" text-anchor="middle">-3.64</text></svg></span></div>
</div>
<div class="row odd" style="top:830.1px;height:46.4px">
<div class="cell" style="left:0.0px;width:168.5px"><span class="tx" style="left:0.0px;top:9.53px"><svg class="t" width="30.96" height="29.40" viewBox="0 -25.87 30.96 29.40" fill="#0b1522"><text x="15.48" y="0" font-size="28.2" text-anchor="middle">15</text></svg></span></div>
<div class="cell" style="left:168.5px;width:143.0px"><span class="tx" style="left:0.0px;top:9.53px"><svg class="t" width="60.60" height="29.40" viewBox="0 -25.87 60.60 29.40" fill="#0b1522"><text x="0.45" y="0" font-size="29.4" letter-spacing="0.9">西安</text></svg></span></div>
<div class="cell" style="left:311.5px;width:219.0px"><span class="tx" style="left:0.0px;top:9.53px"><svg class="t" width="100.48" height="29.40" viewBox="0 -25.87 100.48 29.40" fill="#0b1522"><text x="50.24" y="0" font-size="28.2" text-anchor="middle">1000.37</text></svg></span></div>
<div class="cell" style="left:530.5px;width:187.0px"><i class="bar" style="left:0.5px;top:1.9px;width:136.8px;height:41.5px"></i><span class="tx" style="left:-1.5px;top:9.53px"><svg class="t" width="85.00" height="29.40" viewBox="0 -25.87 85.00 29.40" fill="#0b1522"><text x="0" y="0" font-size="28.2">74.01</text><text transform="translate(70.6 0) scale(0.57 1)" font-size="28.2" stroke="#0b1522" stroke-width="0.7">%</text></svg></span></div>
<div class="cell" style="left:717.5px;width:166.3px"><span class="tx" style="left:-3.7px;top:9.53px"><svg class="t" width="84.99" height="29.40" viewBox="0 -25.87 84.99 29.40" fill="#0b1522"><text x="42.5" y="0" font-size="28.2" text-anchor="middle">740.37</text></svg></span></div>
<div class="cell" style="left:883.8px;width:196.2px"><i class="bar g" style="left:49.1px;top:1.9px;width:112.8px;height:41.5px"></i><span class="tx" style="left:0.0px;top:9.53px"><svg class="t" width="54.03" height="29.40" viewBox="0 -25.87 54.03 29.40" fill="#0b1522"><text x="27.02" y="0" font-size="28.2" text-anchor="middle">38.7</text></svg></span></div>
</div>
<div class="row even" style="top:876.5px;height:43.3px">
<div class="cell" style="left:0.0px;width:168.5px"><span class="tx" style="left:0.0px;top:8.53px"><svg class="t" width="30.96" height="29.40" viewBox="0 -25.87 30.96 29.40" fill="#0b1522"><text x="15.48" y="0" font-size="28.2" text-anchor="middle">16</text></svg></span></div>
<div class="cell" style="left:168.5px;width:143.0px"><span class="tx" style="left:0.0px;top:8.53px"><svg class="t" width="60.60" height="29.40" viewBox="0 -25.87 60.60 29.40" fill="#0b1522"><text x="0.45" y="0" font-size="29.4" letter-spacing="0.9">杭州</text></svg></span></div>
<div class="cell" style="left:311.5px;width:219.0px"><span class="tx" style="left:0.0px;top:8.53px"><svg class="t" width="69.51" height="29.40" viewBox="0 -25.87 69.51 29.40" fill="#0b1522"><text x="34.76" y="0" font-size="28.2" text-anchor="middle">980.6</text></svg></span></div>
<div class="cell" style="left:530.5px;width:187.0px"><i class="bar" style="left:0.5px;top:1.9px;width:143.0px;height:40.8px"></i><span class="tx" style="left:-1.5px;top:8.53px"><svg class="t" width="85.00" height="29.40" viewBox="0 -25.87 85.00 29.40" fill="#0b1522"><text x="0" y="0" font-size="28.2">77.40</text><text transform="translate(70.6 0) scale(0.57 1)" font-size="28.2" stroke="#0b1522" stroke-width="0.7">%</text></svg></span></div>
<div class="cell" style="left:717.5px;width:166.3px"><span class="tx" style="left:-3.7px;top:8.53px"><svg class="t" width="84.99" height="29.40" viewBox="0 -25.87 84.99 29.40" fill="#0b1522"><text x="42.5" y="0" font-size="28.2" text-anchor="middle">758.98</text></svg></span></div>
<div class="cell" style="left:883.8px;width:196.2px"><i class="bar g" style="left:49.1px;top:1.9px;width:98.5px;height:40.8px"></i><span class="tx" style="left:0.0px;top:8.53px"><svg class="t" width="54.03" height="29.40" viewBox="0 -25.87 54.03 29.40" fill="#0b1522"><text x="27.02" y="0" font-size="28.2" text-anchor="middle">33.8</text></svg></span></div>
</div>
<i class="vl" style="left:167.70px"></i>
<i class="vl" style="left:310.70px"></i>
<i class="vl" style="left:529.70px"></i>
<i class="vl" style="left:716.70px"></i>
<i class="vl" style="left:883.00px"></i>
<i class="hl" style="top:132.65px"></i>
<i class="hl" style="top:178.45px"></i>
<i class="hl" style="top:225.65px"></i>
<i class="hl" style="top:274.85px"></i>
<i class="hl" style="top:321.25px"></i>
<i class="hl" style="top:376.75px"></i>
<i class="hl" style="top:434.55px"></i>
<i class="hl" style="top:490.45px"></i>
<i class="hl" style="top:539.85px"></i>
<i class="hl" style="top:587.95px"></i>
<i class="hl" style="top:638.65px"></i>
<i class="hl" style="top:682.55px"></i>
<i class="hl" style="top:736.65px"></i>
<i class="hl" style="top:786.45px"></i>
<i class="hl" style="top:829.25px"></i>
<i class="hl" style="top:875.65px"></i>
<i class="axis" style="left:931.9px"></i>
</div>
<div class="footer"></div>
<div class="brand" style="left:3.5px;top:945.5px"><svg class="t kai" width="126.80" height="29.00" viewBox="0 -880 4372.4 1000" fill="#8d8d8d" style="position:relative;top:-1.3px" stroke="#8d8d8d" stroke-width="36" stroke-linejoin="round"><text x="0" y="0" font-size="1000" letter-spacing="124.1">国民经略</text></svg><i class="vbar" style="background:#8d8d8d;width:2.3px;height:38.0px;margin:0 16.0px 0 16.0px"></i><svg class="t kai" width="61.60" height="29.00" viewBox="0 -880 2124.1 1000" fill="#8d8d8d" style="position:relative;top:-1.3px" stroke="#8d8d8d" stroke-width="36" stroke-linejoin="round"><text x="0" y="0" font-size="1000" letter-spacing="124.1">制图</text></svg></div>
<div class="src" style="left:235.8px;top:945.6px"><svg class="t" width="609.60" height="25.80" viewBox="0 -22.70 609.60 25.80" fill="#fff"><text x="-0.2" y="0" font-size="25.8" letter-spacing="-0.4">数据来源：各地统计公报、统计年鉴</text><text x="431.6" y="0" font-size="25.8" letter-spacing="-0.4">制图：国民经略</text></svg></div>
<div class="wx" style="left:886px;top:925px"><svg class="wxi" width="46" height="40" viewBox="886 925 46 40"><path fill="#e9e9ee" d="M903.5 928c-8.3 0-15 5.6-15 12.5 0 3.9 2.1 7.3 5.4 9.6l-1.9 6.1 6.6-3.9c1.6.5 3.200.7 4.900.7 8.300 0 15-5.600 15-12.500S911.800 928 903.500 928z"/><ellipse cx="917.7" cy="951.2" rx="14.6" ry="12.6" fill="#1f3864"/><path fill="#e9e9ee" d="M917.700 940.200c-7.200 0-13 4.900-13 11 0 6.100 5.800 11 13 11 1.400 0 2.800-.2 4.100-.6l5.700 3.300-1.600-5.200c2.900-2 4.800-5.100 4.800-8.500 0-6.100-5.800-11-13-11z"/><circle cx="898.4" cy="936.3" r="1.9" fill="#1f3864"/><circle cx="908.8" cy="936.3" r="1.9" fill="#1f3864"/><circle cx="913.2" cy="948.3" r="1.6" fill="#1f3864"/><circle cx="922.4" cy="948.3" r="1.6" fill="#1f3864"/></svg><span class="wxt" style="left:49.3px;top:10.2px"><svg class="t" width="108.00" height="26.20" viewBox="0 -23.06 108.00 26.20" fill="#fff"><text x="0.4" y="0" font-size="26.2" letter-spacing="0.8">国民经略</text></svg></span></div>
<i class="corner"></i>
<svg class="wm" width="1080" height="997" viewBox="0 0 1080 997"><g opacity="0.20" fill="#808080" stroke="#808080" stroke-width="3.6" stroke-linejoin="round" font-size="152" font-weight="bold"><g transform="translate(247.0 384.0) rotate(-45.3)"><text x="-307.0" y="53.8">国</text><text x="-153.0" y="53.7">民</text><text x="1.0" y="53.7">经</text><text x="155.0" y="53.8">略</text></g><g transform="translate(345.0 640.5) rotate(-45.3)"><text x="-296.5" y="53.8">国</text><text x="-149.5" y="53.7">民</text><text x="-2.5" y="53.7">经</text><text x="144.5" y="53.8">略</text></g><g transform="translate(945.0 300.0) rotate(-45.3)"><text x="-308.5" y="53.8">国</text><text x="-153.5" y="53.7">民</text><text x="1.5" y="53.7">经</text><text x="156.5" y="53.8">略</text></g><g transform="translate(760.0 716.5) rotate(-45.3)"><text x="-290.5" y="53.8">国</text><text x="-147.5" y="53.7">民</text><text x="-4.5" y="53.7">经</text><text x="138.5" y="53.8">略</text></g></g></svg>
<i class="edge" style="left:0;top:0;width:1080px;height:1.3px;background:#a5b5d6"></i><i class="edge" style="left:0;top:0;width:1.2px;height:997px;background:#e4e6f8"></i><i class="edge" style="right:0;top:0;width:1.3px;height:997px;background:#6b7fa8"></i><i class="edge" style="left:0;bottom:0;width:1080px;height:1.3px;background:#6b7fa8"></i>
</div>
</body></html>
